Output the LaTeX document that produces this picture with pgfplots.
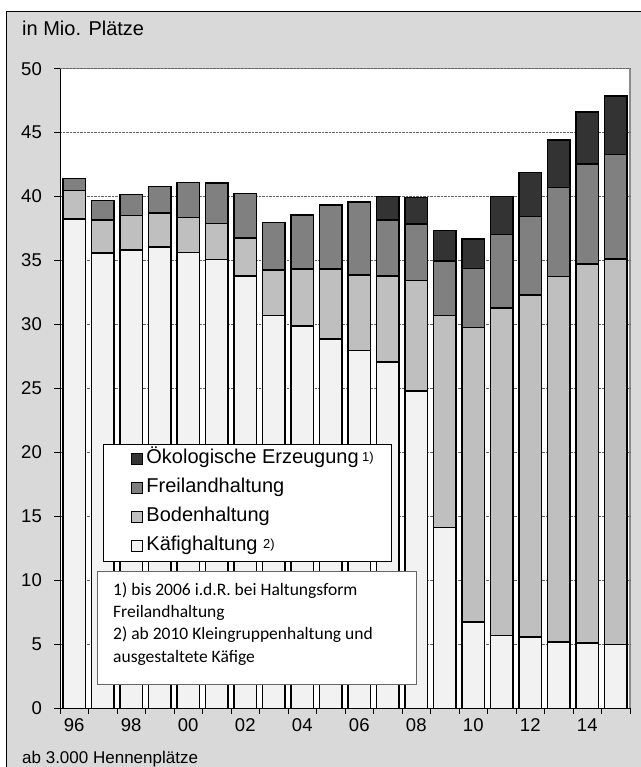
\documentclass[border=0pt]{standalone}
\usepackage{fontspec}
\setmainfont{Liberation Sans}
\newfontfamily\calibri{Carlito}
\usepackage{pgfplots}
\pgfplotsset{compat=1.18}
\usepackage{pgfplotstable}
\definecolor{bgg}{HTML}{D9D9D9}
\definecolor{kaef}{HTML}{F2F2F2}
\definecolor{boden}{HTML}{BFBFBF}
\definecolor{frei}{HTML}{808080}
\definecolor{oeko}{HTML}{333333}

\pgfplotstableread{
x K B F O
0 38.26 2.24 0.90 0
1 35.58 2.60 1.52 0
2 35.84 2.68 1.64 0
3 36.07 2.66 2.08 0
4 35.63 2.73 2.76 0
5 35.10 2.82 3.15 0
6 33.80 2.95 3.49 0
7 30.70 3.57 3.73 0
8 29.90 4.45 4.22 0
9 28.86 5.49 5.00 0
10 27.95 5.93 5.71 0
11 27.06 6.74 4.38 1.82
12 24.82 8.62 4.43 2.08
13 14.14 16.56 4.28 2.36
14 6.75 23.02 4.63 2.30
15 5.70 25.58 5.78 2.94
16 5.57 26.75 6.12 3.44
17 5.18 28.57 6.95 3.73
18 5.10 29.62 7.83 4.05
19 4.98 30.15 8.18 4.56
}\data

\pgfkeys{/pgfplots/sqlegend/.style={legend image code/.code={%
  \path (0pt,0pt) (27pt,0pt);
  \draw[##1, draw=black, line width=1pt] (27pt,-5.5pt) rectangle (38pt,5.5pt);}}}

\begin{document}
\begin{tikzpicture}[x=1pt,y=1pt]
\useasboundingbox (0,0) rectangle (640,-767);
\fill[white] (0,0) rectangle (640,-767);
\filldraw[fill=bgg, draw=black, line width=1pt] (6,-12) rectangle (660,-790);
\fill[white] (60,-708.3) rectangle (630,-68.7);
\draw[black!45, line width=1.5pt] (60,-68.7) -- (630,-68.7) -- (630,-708.3);
\node[anchor=base west, font=\fontsize{20}{24}\selectfont, inner sep=0] at (22,-36) {in Mio. Plätze};
\node[anchor=base west, font=\fontsize{17}{20}\selectfont, inner sep=0] at (22,-763) {ab 3.000 Hennenplätze};
\begin{axis}[
  at={(60pt,-708.3pt)}, anchor=south west,
  scale only axis, width=570pt, height=639.6pt,
  xmin=-0.5, xmax=19.5, ymin=0, ymax=50,
  ybar stacked, bar width=22.5pt,
  axis lines=left, axis line style={-, black, line width=1pt},
  ytick={0,5,...,50},
  xtick={-0.5,0.5,...,19.5}, xticklabels={},
  extra x ticks={0,2,...,18},
  extra x tick labels={96,98,00,02,04,06,08,10,12,14},
  extra x tick style={major tick length=0pt},
  tick align=outside, major tick length=6pt,
  tick style={black, line width=1pt},
  ymajorgrids, major grid style={densely dotted, black!60, line width=0.8pt},
  tick label style={font=\fontsize{18.5}{22}\selectfont},
  /pgf/number format/assume math mode=true,
  yticklabel style={inner sep=0pt}, yticklabel shift=12pt,
  xticklabel style={inner sep=0pt}, xticklabel shift=10pt,
  every axis plot/.append style={draw=black, line width=1.4pt},
  every axis plot post/.append style={sqlegend},
  reverse legend,
  legend cell align=left,
  legend style={at={(rel axis cs:0.076,0.414)}, anchor=north west,
    draw=black, fill=white, line width=0.8pt,
    font=\fontsize{20}{24}\selectfont,
    inner xsep=0pt, inner ysep=6pt, row sep=11pt,
    nodes={inner ysep=0pt, inner xsep=3.5pt, text height=14pt, text depth=4pt}},
  clip=false,
]
\addplot[fill=kaef] table[x=x,y=K]{\data};
\addlegendentry{Käfighaltung \raisebox{2pt}{\fontsize{13}{13}\selectfont 2)}}
\addplot[fill=boden] table[x=x,y=B]{\data};
\addlegendentry{Bodenhaltung}
\addplot[fill=frei] table[x=x,y=F]{\data};
\addlegendentry{Freilandhaltung}
\addplot[fill=oeko] table[x=x,y=O]{\data};
\addlegendentry{Ökologische Erzeugung\,\raisebox{2pt}{\fontsize{13}{13}\selectfont 1)}\kern 14pt}
\end{axis}
\filldraw[fill=white, draw=black!60, line width=0.8pt] (97.3,-571) rectangle (416,-684);
\node[anchor=north west, align=left, inner sep=0, font=\calibri\fontsize{17.5}{22.4}\selectfont] at (113,-582) {1) bis 2006 i.d.R. bei Haltungsform\\Freilandhaltung\\2) ab 2010 Kleingruppenhaltung und\\ausgestaltete Käfige};
\end{tikzpicture}
\end{document}
